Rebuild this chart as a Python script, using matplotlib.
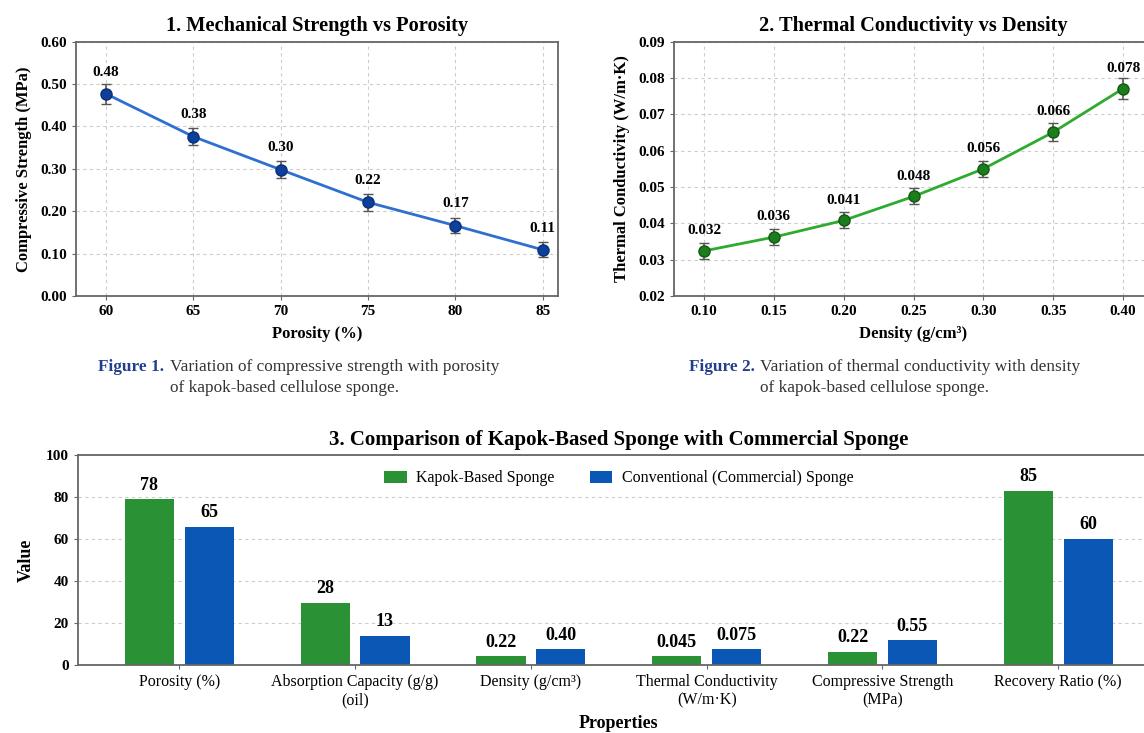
import matplotlib
matplotlib.use('Agg')
import matplotlib.pyplot as plt
import numpy as np

plt.rcParams['font.family'] = ['Liberation Serif', 'DejaVu Serif']

# Panel 1 data: compressive strength vs porosity
porosity = [60, 65, 70, 75, 80, 85]
strength = [0.477, 0.376, 0.298, 0.221, 0.166, 0.109]
strength_err = [0.023, 0.02, 0.02, 0.02, 0.018, 0.018]
strength_labels = ['0.48', '0.38', '0.30', '0.22', '0.17', '0.11']

# Panel 2 data: thermal conductivity vs density
density = [0.10, 0.15, 0.20, 0.25, 0.30, 0.35, 0.40]
conductivity = [0.0324, 0.0362, 0.0408, 0.0474, 0.0550, 0.0651, 0.0771]
conductivity_err = [0.0022, 0.0022, 0.0022, 0.0022, 0.0022, 0.0024, 0.0028]
conductivity_labels = ['0.032', '0.036', '0.041', '0.048', '0.056', '0.066', '0.078']

# Panel 3 data: comparison bars
properties = ['Porosity (%)', 'Absorption Capacity (g/g)\n(oil)', 'Density (g/cm³)',
              'Thermal Conductivity\n(W/m·K)', 'Compressive Strength\n(MPa)', 'Recovery Ratio (%)']
kapok_bars = [79, 29.5, 4.1, 4.1, 6.2, 83]
commercial_bars = [65.7, 14, 7.5, 7.5, 11.7, 60.2]
kapok_labels = ['78', '28', '0.22', '0.045', '0.22', '85']
commercial_labels = ['65', '13', '0.40', '0.075', '0.55', '60']

GREEN = '#2a9235'
BLUE = '#0a57b5'
SPINE = '#666666'
GRID = dict(color='#cccccc', linestyle=(0, (3, 3)), linewidth=0.8)


def style_axes(ax):
    for s in ax.spines.values():
        s.set_color(SPINE)
        s.set_linewidth(1.3)
    ax.tick_params(labelsize=11, length=3, color=SPINE)
    for lab in ax.get_xticklabels() + ax.get_yticklabels():
        lab.set_fontweight('bold')


fig = plt.figure(figsize=(11.44, 7.33), dpi=100)

# ---- Panel 1
ax1 = fig.add_axes([0.0663, 0.5962, 0.4213, 0.3469])
ax1.plot(porosity, strength, color='#2f6fd0', linewidth=2, zorder=2)
ax1.errorbar(porosity, strength, yerr=strength_err, fmt='o', color='#0d3f9c',
             markersize=8, markeredgecolor='#0a2f75', ecolor='#555555',
             elinewidth=1.2, capsize=3.5, zorder=3)
for x, y, t in zip(porosity, strength, strength_labels):
    ax1.annotate(t, (x, y), xytext=(0, 11), textcoords='offset points',
                 ha='center', va='bottom', fontsize=11, fontweight='bold')
ax1.set_xlim(58.27, 85.86)
ax1.set_ylim(0, 0.6)
ax1.set_xticks(porosity)
ax1.set_yticks(np.arange(0, 0.61, 0.1))
ax1.set_yticklabels([f'{v:.2f}' for v in np.arange(0, 0.61, 0.1)])
ax1.grid(True, **GRID)
ax1.set_axisbelow(True)
ax1.set_xlabel('Porosity (%)', fontsize=12, fontweight='bold', labelpad=6)
ax1.set_ylabel('Compressive Strength (MPa)', fontsize=12, fontweight='bold', labelpad=6)
ax1.set_title('1. Mechanical Strength vs Porosity', fontsize=14.7, fontweight='bold', pad=8)
style_axes(ax1)

# ---- Panel 2
ax2 = fig.add_axes([0.5892, 0.5962, 0.4187, 0.3469])
ax2.plot(density, conductivity, color='#2eab2e', linewidth=2, zorder=2)
ax2.errorbar(density, conductivity, yerr=conductivity_err, fmt='o', color='#1c7d1c',
             markersize=8, markeredgecolor='#125a12', ecolor='#555555',
             elinewidth=1.2, capsize=3.5, zorder=3)
for x, y, t in zip(density, conductivity, conductivity_labels):
    ax2.annotate(t, (x, y), xytext=(0, 10), textcoords='offset points',
                 ha='center', va='bottom', fontsize=11, fontweight='bold')
ax2.set_xlim(0.0786, 0.4214)
ax2.set_ylim(0.02, 0.09)
ax2.set_xticks(density)
ax2.set_xticklabels([f'{v:.2f}' for v in density])
ax2.set_yticks(np.arange(0.02, 0.0901, 0.01))
ax2.set_yticklabels([f'{v:.2f}' for v in np.arange(0.02, 0.0901, 0.01)])
ax2.grid(True, **GRID)
ax2.set_axisbelow(True)
ax2.set_xlabel('Density (g/cm³)', fontsize=12, fontweight='bold', labelpad=6)
ax2.set_ylabel('Thermal Conductivity (W/m·K)', fontsize=12, fontweight='bold', labelpad=6)
ax2.set_title('2. Thermal Conductivity vs Density', fontsize=14.7, fontweight='bold', pad=8)
style_axes(ax2)

# ---- Captions
cap_specs = [
    (164, 170, 'Figure 1.', 'Variation of compressive strength with porosity'),
    (755, 760, 'Figure 2.', 'Variation of thermal conductivity with density'),
]
for xr, xl, head, body in cap_specs:
    fig.text(xr / 1144, 1 - 367 / 733, head, ha='right', va='center', fontsize=12.4,
             fontweight='bold', color='#233f8c')
    fig.text(xl / 1144, 1 - 367 / 733, body, ha='left', va='center', fontsize=12.4,
             color='#333333')
    fig.text(xl / 1144, 1 - 388 / 733, 'of kapok-based cellulose sponge.', ha='left',
             va='center', fontsize=12.4, color='#333333')

# ---- Panel 3
ax3 = fig.add_axes([0.0679, 0.0928, 0.946, 0.2865])
xpos = np.arange(len(properties))
off, w = 0.17, 0.28
b1 = ax3.bar(xpos - off, kapok_bars, w, color=GREEN, label='Kapok-Based Sponge', zorder=2)
b2 = ax3.bar(xpos + off, commercial_bars, w, color=BLUE,
             label='Conventional (Commercial) Sponge', zorder=2)
for bars, labs in [(b1, kapok_labels), (b2, commercial_labels)]:
    for rect, t in zip(bars, labs):
        ax3.annotate(t, (rect.get_x() + rect.get_width() / 2, rect.get_height()),
                     xytext=(0, 4), textcoords='offset points', ha='center', va='bottom',
                     fontsize=13, fontweight='bold')
ax3.set_xlim(-0.578, 5.578)
ax3.set_ylim(0, 100)
ax3.set_xticks(xpos)
ax3.set_xticklabels(properties, fontsize=11.5)
ax3.set_yticks(range(0, 101, 20))
ax3.yaxis.grid(True, **GRID)
ax3.set_axisbelow(True)
ax3.set_xlabel('Properties', fontsize=13, fontweight='bold', labelpad=5)
ax3.set_ylabel('Value', fontsize=13, fontweight='bold', labelpad=8)
ax3.set_title('3. Comparison of Kapok-Based Sponge with Commercial Sponge',
              fontsize=15, fontweight='bold', pad=7)
ax3.legend(loc='upper center', bbox_to_anchor=(0.5, 0.995), ncol=2, frameon=False,
           fontsize=11.5, columnspacing=2.2, handlelength=1.4, handleheight=0.8,
           handletextpad=0.6)
for s in ax3.spines.values():
    s.set_color(SPINE)
    s.set_linewidth(1.3)
ax3.tick_params(axis='y', labelsize=11, length=3, color=SPINE)
ax3.tick_params(axis='x', length=3, color=SPINE)
for lab in ax3.get_yticklabels():
    lab.set_fontweight('bold')

fig.savefig('out.png', dpi=100)
